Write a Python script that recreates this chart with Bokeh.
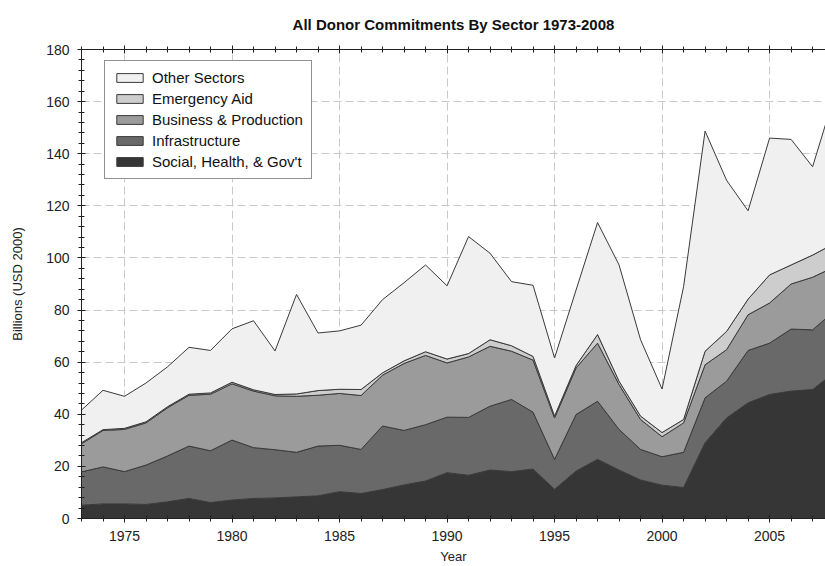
import numpy as np
from bokeh.plotting import figure
from bokeh.models import (Range1d, SingleIntervalTicker, LinearAxis, Legend, LegendItem,
                          CustomJSTickFormatter)
from bokeh.embed import file_html
from bokeh.resources import INLINE

years = list(range(1973, 2009))
social = [5.1, 5.6, 5.6, 5.4, 6.4, 7.7, 6.1, 7.1, 7.7, 7.9,
          8.3, 8.7, 10.3, 9.6, 11.1, 12.9, 14.4, 17.6, 16.6, 18.6,
          18.0, 19.0, 11.2, 18.2, 22.7, 18.6, 14.8, 12.8, 11.9, 29.1,
          38.6, 44.4, 47.6, 48.9, 49.5, 56.0]
infrastructure = [12.8, 14.2, 12.4, 15.1, 17.6, 20.1, 19.9, 23.0, 19.5, 18.5,
                  17.1, 19.1, 17.8, 16.9, 24.4, 20.9, 21.6, 21.3, 22.2, 24.5,
                  27.7, 21.8, 11.5, 21.7, 22.3, 15.6, 11.7, 10.9, 13.5, 17.2,
                  14.1, 20.1, 19.7, 23.8, 22.9, 23.5]
business = [10.8, 14.0, 16.2, 16.2, 18.5, 19.5, 21.7, 21.6, 21.7, 20.7,
            21.5, 19.5, 19.9, 20.7, 19.5, 25.7, 26.6, 20.8, 23.2, 23.0,
            18.5, 20.0, 15.9, 17.9, 22.3, 17.2, 11.5, 7.7, 11.3, 12.7,
            12.1, 13.7, 15.4, 17.3, 20.2, 17.0]
emergency = [0.4, 0.3, 0.4, 0.4, 0.4, 0.4, 0.5, 0.6, 0.5, 0.5,
             0.9, 1.8, 1.6, 2.3, 0.9, 1.0, 1.4, 1.5, 1.3, 2.5,
             2.1, 1.4, 0.7, 0.9, 3.3, 1.3, 1.3, 1.6, 1.3, 5.2,
             7.0, 6.0, 10.8, 7.3, 8.5, 9.0]
other = [12.5, 15.1, 12.3, 14.9, 15.3, 18.0, 16.3, 20.5, 26.5, 16.7,
         38.2, 22.1, 22.4, 24.7, 28.1, 30.0, 33.3, 28.1, 44.9, 33.2,
         24.6, 27.3, 22.3, 29.0, 43.0, 44.6, 29.3, 16.7, 51.0, 84.5,
         58.0, 33.9, 52.5, 48.2, 33.9, 56.5]

series_names = ["Social, Health, & Gov't", "Infrastructure", "Business & Production",
                "Emergency Aid", "Other Sectors"]
series_values = [social, infrastructure, business, emergency, other]
series_colors = ["#363636", "#696969", "#9b9b9b", "#cdcdcd", "#f0f0f0"]

FONT = "Liberation Sans"

p = figure(width=825, height=566, output_backend="svg", toolbar_location=None,
           x_range=Range1d(1973, 2007.6), y_range=Range1d(0, 180),
           min_border_left=81, min_border_right=0, min_border_top=49, min_border_bottom=47)
p.outline_line_color = None
p.background_fill_color = "white"

p.title.text = "All Donor Commitments By Sector 1973-2008"
p.title.text_font = FONT
p.title.text_font_size = "15px"
p.title.text_font_style = "bold"
p.title.align = "center"
p.title.text_color = "#111111"
p.title.standoff = 26

xt = SingleIntervalTicker(interval=5, num_minor_ticks=5)
yt = SingleIntervalTicker(interval=20, num_minor_ticks=5)
p.xaxis.ticker = xt
p.yaxis.ticker = yt
p.xgrid.ticker = xt
p.ygrid.ticker = yt

for ax in (p.xaxis[0], p.yaxis[0]):
    ax.axis_line_color = "#222222"
    ax.major_tick_line_color = "#222222"
    ax.minor_tick_line_color = "#222222"
    ax.major_tick_in = 4
    ax.major_tick_out = 4
    ax.minor_tick_in = 3
    ax.minor_tick_out = 3
    ax.major_label_text_font = FONT
    ax.major_label_text_font_size = "14px"
    ax.major_label_text_color = "#222222"
    ax.axis_label_text_font = FONT
    ax.axis_label_text_font_size = "13px"
    ax.axis_label_text_font_style = "normal"
    ax.axis_label_text_color = "#222222"

p.xaxis.axis_label = "Year"
p.yaxis.axis_label = "Billions (USD 2000)"
p.xaxis.major_label_standoff = 8
p.xaxis.axis_label_standoff = 5
p.yaxis.major_label_standoff = 8
p.yaxis.axis_label_standoff = 18

top_axis = LinearAxis(ticker=xt, formatter=CustomJSTickFormatter(code="return ''"))
top_axis.axis_line_color = "#222222"
top_axis.major_tick_line_color = "#222222"
top_axis.minor_tick_line_color = "#222222"
top_axis.major_tick_in = 4
top_axis.major_tick_out = 4
top_axis.minor_tick_in = 3
top_axis.minor_tick_out = 3
top_axis.major_label_text_font_size = "0px"
top_axis.major_label_standoff = 0
p.add_layout(top_axis, "above")

for g in (p.xgrid[0], p.ygrid[0]):
    g.grid_line_color = "#c8c8c8"
    g.grid_line_dash = "8 4"
    g.grid_line_width = 1

x = np.array(years, dtype=float)
bottom = np.zeros(len(years))
renderers = {}
for name, vals, col in zip(series_names, series_values, series_colors):
    top = bottom + np.array(vals, dtype=float)
    xs = np.concatenate([x, x[::-1]])
    ys = np.concatenate([top, bottom[::-1]])
    r = p.patch(xs, ys, fill_color=col, line_color="#3a3a3a", line_width=1)
    renderers[name] = r
    bottom = top

items = [LegendItem(label=n, renderers=[renderers[n]]) for n in reversed(series_names)]
legend = Legend(items=items, location=(23, 339), margin=0, padding=8, spacing=4,
                label_height=17, glyph_height=11, glyph_width=33, label_standoff=6,
                label_text_font=FONT, label_text_font_size="15px", label_text_color="#111111",
                border_line_color="#222222", border_line_width=1,
                background_fill_color="white", background_fill_alpha=1.0)
p.add_layout(legend)

open("out.html", "w").write(file_html(p, INLINE))
